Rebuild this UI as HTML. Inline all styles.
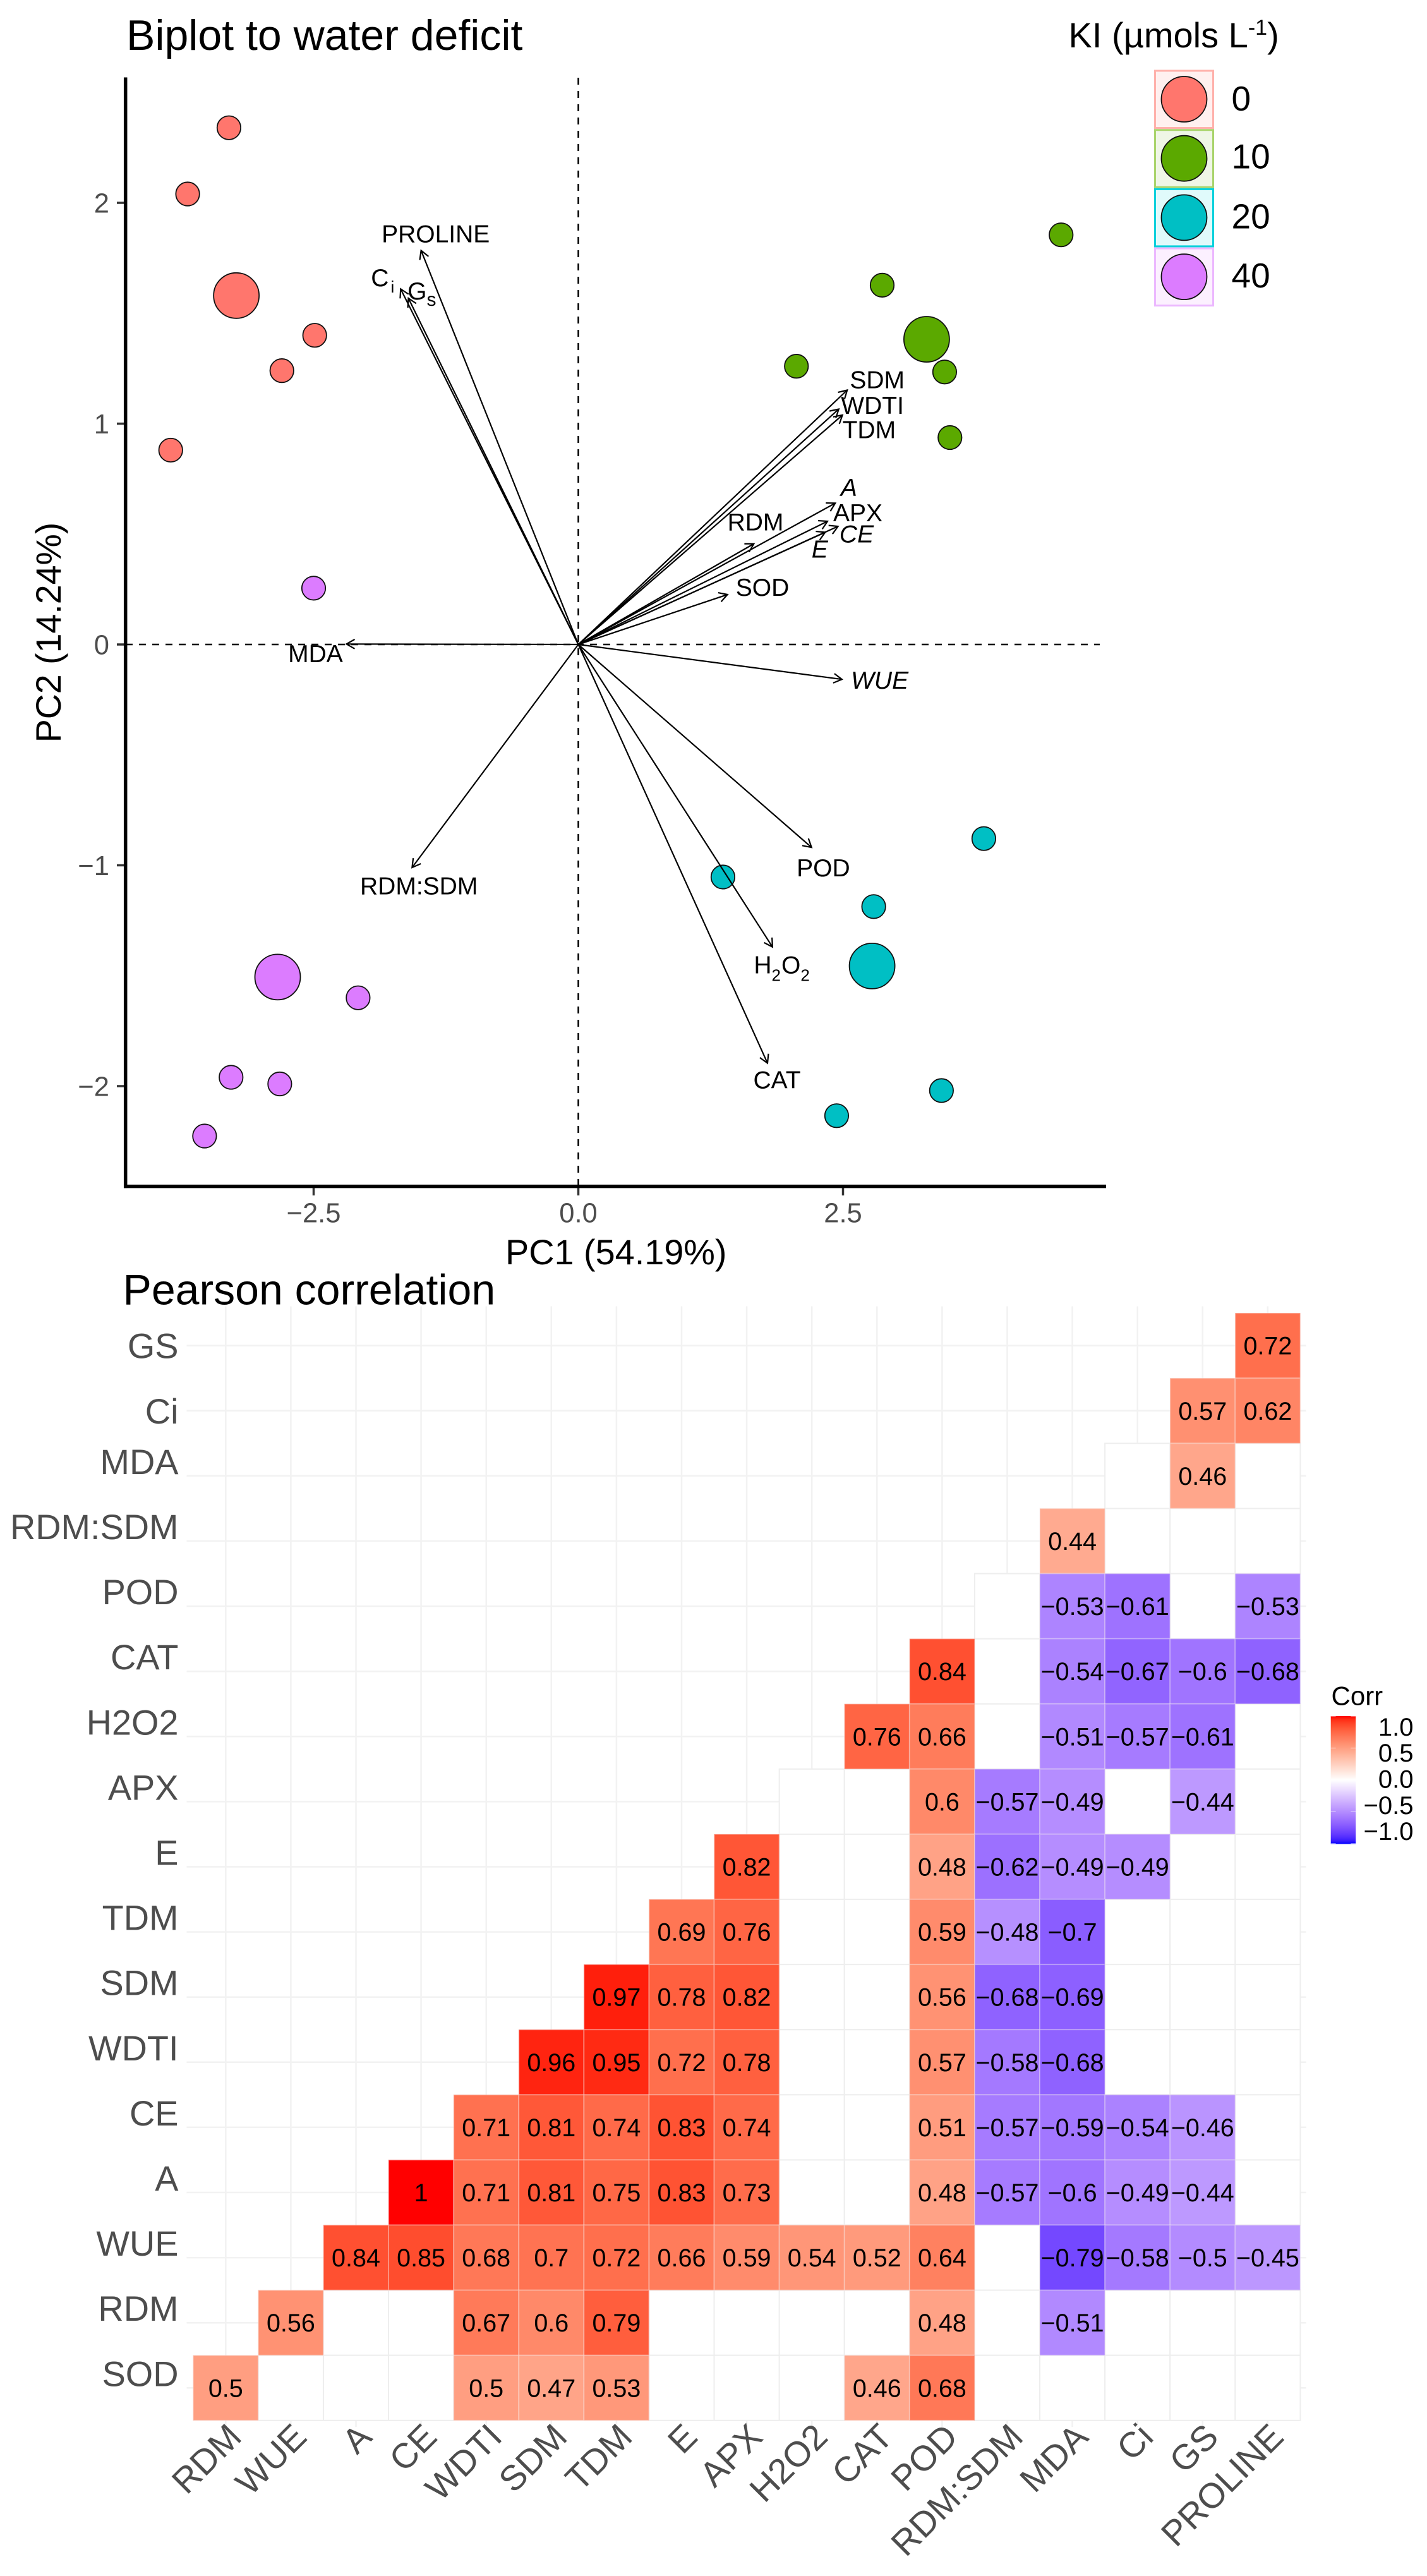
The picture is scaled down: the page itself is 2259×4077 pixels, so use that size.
<!DOCTYPE html>
<html lang="en">
<head>
<meta charset="utf-8">
<title>Biplot to water deficit and Pearson correlation</title>
<style>
html,body{margin:0;padding:0;background:#fff;}
svg{display:block;font-family:"Liberation Sans",Arial,sans-serif;}
</style>
</head>
<body>
<svg id="figure" xmlns="http://www.w3.org/2000/svg" width="2259" height="4077" viewBox="0 0 2259 4077">
  <rect x="0" y="0" width="2259" height="4077" fill="#fff"/>
  <defs>
    <linearGradient id="corr-gradient" x1="0" y1="0" x2="0" y2="1"></linearGradient>
  </defs>
  <g id="biplot">
    <text x="200" y="79" font-size="68" fill="#000">Biplot to water deficit</text>
    <text x="800" y="2001" font-size="55.8" fill="#000">PC1 (54.19%)</text>
    <text transform="translate(96,1001) rotate(-90)" text-anchor="middle" font-size="55.5" fill="#000">PC2 (14.24%)</text>
    <text x="1691.5" y="75" font-size="56" fill="#000">KI (µmols L<tspan font-size="34" dy="-20">-1</tspan><tspan dy="20">)</tspan></text>
  </g>
  <g id="heatmap">
    <text x="194.5" y="2064.5" font-size="68" fill="#000">Pearson correlation</text>
    <text x="2107.5" y="2698.5" font-size="42" fill="#000">Corr</text>
  </g>
</svg>
<script>
// ---------- Biplot data ----------
const groupLabels = ['0', '10', '20', '40'];
const groupColors = ['#FF766D', '#5BA900', '#00BFC4', '#DC7CFF'];
const scoresPc1Ki0 = [-3.30, -3.69, -2.49, -2.80, -3.85];
const scoresPc2Ki0 = [2.34, 2.04, 1.40, 1.24, 0.88];
const scoresPc1Ki10 = [4.56, 2.87, 2.06, 3.46, 3.51];
const scoresPc2Ki10 = [1.855, 1.627, 1.26, 1.234, 0.937];
const scoresPc1Ki20 = [3.83, 1.366, 2.79, 3.43, 2.44];
const scoresPc2Ki20 = [-0.879, -1.053, -1.187, -2.02, -2.134];
const scoresPc1Ki40 = [-2.50, -2.08, -3.28, -2.82, -3.53];
const scoresPc2Ki40 = [0.255, -1.60, -1.96, -1.99, -2.226];
const centroidPc1 = [-3.23, 3.29, 2.775, -2.84];
const centroidPc2 = [1.58, 1.382, -1.456, -1.506];
const loadingNames = ['PROLINE', 'Ci', 'Gs', 'MDA', 'RDM:SDM', 'SDM', 'WDTI', 'TDM', 'A', 'APX', 'CE', 'E', 'RDM', 'SOD', 'WUE', 'POD', 'H2O2', 'CAT'];
const loadingPc1 = [-1.485, -1.678, -1.605, -2.19, -1.57, 2.54, 2.46, 2.495, 2.427, 2.354, 2.453, 2.332, 1.658, 1.409, 2.49, 2.203, 1.834, 1.787];
const loadingPc2 = [1.784, 1.61, 1.568, 0.002, -1.01, 1.152, 1.066, 1.039, 0.64, 0.558, 0.535, 0.508, 0.456, 0.226, -0.158, -0.919, -1.37, -1.896];
const xTickValues = [-2.5, 0, 2.5];
const xTickLabels = ['−2.5', '0.0', '2.5'];
const yTickValues = [2, 1, 0, -1, -2];
const yTickLabels = ['2', '1', '0', '−1', '−2'];

// ---------- Heatmap data (each row runs from its diagonal to PROLINE; null = not significant) ----------
const corrColumns = ['RDM', 'WUE', 'A', 'CE', 'WDTI', 'SDM', 'TDM', 'E', 'APX', 'H2O2', 'CAT', 'POD', 'RDM:SDM', 'MDA', 'Ci', 'GS', 'PROLINE'];
const corrRows = ['GS', 'Ci', 'MDA', 'RDM:SDM', 'POD', 'CAT', 'H2O2', 'APX', 'E', 'TDM', 'SDM', 'WDTI', 'CE', 'A', 'WUE', 'RDM', 'SOD'];
const rowGS = [0.72];
const rowCi = [0.57, 0.62];
const rowMDA = [null, 0.46, null];
const rowRDMSDM = [0.44, null, null, null];
const rowPOD = [null, -0.53, -0.61, null, -0.53];
const rowCAT = [0.84, null, -0.54, -0.67, -0.6, -0.68];
const rowH2O2 = [0.76, 0.66, null, -0.51, -0.57, -0.61, null];
const rowAPX = [null, null, 0.6, -0.57, -0.49, null, -0.44, null];
const rowE = [0.82, null, null, 0.48, -0.62, -0.49, -0.49, null, null];
const rowTDM = [0.69, 0.76, null, null, 0.59, -0.48, -0.7, null, null, null];
const rowSDM = [0.97, 0.78, 0.82, null, null, 0.56, -0.68, -0.69, null, null, null];
const rowWDTI = [0.96, 0.95, 0.72, 0.78, null, null, 0.57, -0.58, -0.68, null, null, null];
const rowCE = [0.71, 0.81, 0.74, 0.83, 0.74, null, null, 0.51, -0.57, -0.59, -0.54, -0.46, null];
const rowA = [1, 0.71, 0.81, 0.75, 0.83, 0.73, null, null, 0.48, -0.57, -0.6, -0.49, -0.44, null];
const rowWUE = [0.84, 0.85, 0.68, 0.7, 0.72, 0.66, 0.59, 0.54, 0.52, 0.64, null, -0.79, -0.58, -0.5, -0.45];
const rowRDM = [0.56, null, null, 0.67, 0.6, 0.79, null, null, null, null, 0.48, null, -0.51, null, null, null];
const rowSOD = [0.5, null, null, null, 0.5, 0.47, 0.53, null, null, null, 0.46, 0.68, null, null, null, null, null];
const corrValues = [rowGS, rowCi, rowMDA, rowRDMSDM, rowPOD, rowCAT, rowH2O2, rowAPX, rowE, rowTDM, rowSDM, rowWDTI, rowCE, rowA, rowWUE, rowRDM, rowSOD];
const colorbarTicks = [1, 0.5, 0, -0.5, -1];
const colorbarLabels = ['1.0', '0.5', '0.0', '−0.5', '−1.0'];

// ---------- Helpers ----------
const NS = 'http://www.w3.org/2000/svg';
function make(parent, tag, attrs, text) {
  const el = document.createElementNS(NS, tag);
  for (const k in attrs) el.setAttribute(k, attrs[k]);
  if (text !== undefined) el.textContent = text;
  parent.appendChild(el);
  return el;
}
function xScale(v) { return 915.5 + 167.6 * v; }
function yScale(v) { return 1020 - 349.5 * v; }
function colX(i) { return 357.3 + 103.1 * i; }
function rowY(i) { return 2129.7 + 103.1 * i; }

function labToRgb(L, a, b) {
  const fy = (L + 16) / 116, fx = fy + a / 500, fz = fy - b / 200;
  const g = t => t > 6 / 29 ? t * t * t : 3 * (6 / 29) * (6 / 29) * (t - 4 / 29);
  const X = 0.95047 * g(fx), Y = g(fy), Z = 1.08883 * g(fz);
  const lin = [3.2406 * X - 1.5372 * Y - 0.4986 * Z, -0.9689 * X + 1.8758 * Y + 0.0415 * Z, 0.0557 * X - 0.204 * Y + 1.057 * Z];
  const out = lin.map(c => {
    const s = c <= 0.0031308 ? 12.92 * c : 1.055 * Math.pow(c, 1 / 2.4) - 0.055;
    return Math.round(Math.max(0, Math.min(1, s)) * 255);
  });
  return 'rgb(' + out.join(',') + ')';
}
function corrColor(v) {
  const t = Math.min(1, Math.abs(v));
  if (v >= 0) return labToRgb(100 + (53.24 - 100) * t, 80.09 * t, 67.2 * t);
  return labToRgb(100 + (32.3 - 100) * t, 79.19 * t, -107.86 * t);
}

// ---------- Biplot ----------
const bp = document.getElementById('biplot');

function drawBiplotGuides() {
  const v = make(bp, 'line', { x1: xScale(0), x2: xScale(0), y1: 123, y2: 1878, stroke: '#000', 'stroke-width': 2.5, 'stroke-dasharray': '11 10' });
  
  
  const h = make(bp, 'line', { x1: 199, x2: 1741, y1: yScale(0), y2: yScale(0), stroke: '#000', 'stroke-width': 2.5, 'stroke-dasharray': '11 10' });
  
  
}

function drawBiplotAxes() {
  xTickValues.forEach((v, i) => {
    const t = make(bp, 'line', { x1: xScale(v), x2: xScale(v), y1: 1878, y2: 1892, stroke: '#333', 'stroke-width': 3.5 });
    
    
    const l = make(bp, 'text', { x: xScale(v), y: 1934.5, 'text-anchor': 'middle', 'font-size': 43.5, fill: '#4d4d4d' }, xTickLabels[i]);
    
    
  });
  yTickValues.forEach((v, i) => {
    const t = make(bp, 'line', { x1: 185, x2: 199, y1: yScale(v), y2: yScale(v), stroke: '#333', 'stroke-width': 3.5 });
    
    
    const l = make(bp, 'text', { x: 173, y: yScale(v) + 15.5, 'text-anchor': 'end', 'font-size': 43.5, fill: '#4d4d4d' }, yTickLabels[i]);
    
    
  });
  const ya = make(bp, 'line', { x1: 198.7, x2: 198.7, y1: 122.5, y2: 1880.3, stroke: '#000', 'stroke-width': 5.5 });
  
  
  const xa = make(bp, 'line', { x1: 196, x2: 1751, y1: 1877.6, y2: 1877.6, stroke: '#000', 'stroke-width': 5.5 });
  
  
}

function drawScores() {
  const pc1 = [scoresPc1Ki0, scoresPc1Ki10, scoresPc1Ki20, scoresPc1Ki40];
  const pc2 = [scoresPc2Ki0, scoresPc2Ki10, scoresPc2Ki20, scoresPc2Ki40];
  groupLabels.forEach((g, gi) => {
    pc1[gi].forEach((x, i) => {
      const c = make(bp, 'circle', { cx: xScale(x), cy: yScale(pc2[gi][i]), r: 18.7, fill: groupColors[gi], stroke: '#111', 'stroke-width': 1.8 });
      
      
    });
    const big = make(bp, 'circle', { cx: xScale(centroidPc1[gi]), cy: yScale(centroidPc2[gi]), r: 36, fill: groupColors[gi], stroke: '#111', 'stroke-width': 1.8 });
    
    
  });
}

function drawLoadings() {
  // label placement relative to each arrow tip, in pixels: [dx, baseline dy]
  const place = {
    'PROLINE': [23.1, -12.9], 'MDA': [-49, 28.9], 'RDM:SDM': [10.8, 42.3], 'SDM': [47.5, -2.9],
    'WDTI': [53.3, 7.4], 'TDM': [42.2, 36.6], 'A': [21.6, -11.3], 'APX': [48, 0.1], 'CE': [29.4, 25.5],
    'E': [-8.6, 40.1], 'RDM': [2.6, -21.3], 'SOD': [55.4, 2.1], 'WUE': [59.8, 14.9], 'POD': [18.7, 45.6], 'CAT': [15, 39.7],
    'Ci': [-47, -4.4], 'Gs': [-1.4, 1.9], 'H2O2': [-29.5, 41.5]
  };
  const italic = { 'A': 1, 'CE': 1, 'E': 1, 'WUE': 1 };
  const ox = xScale(0), oy = yScale(0);
  loadingNames.forEach((name, i) => {
    const tx = xScale(loadingPc1[i]), ty = yScale(loadingPc2[i]);
    const a = make(bp, 'line', { x1: ox, y1: oy, x2: tx, y2: ty, stroke: '#000', 'stroke-width': 2.2 });
    
    
    const ang = Math.atan2(ty - oy, tx - ox), len = 15, sp = 0.52;
    const p1 = (tx - len * Math.cos(ang - sp)) + ',' + (ty - len * Math.sin(ang - sp));
    const p2 = (tx - len * Math.cos(ang + sp)) + ',' + (ty - len * Math.sin(ang + sp));
    const head = make(bp, 'polyline', { points: p1 + ' ' + tx + ',' + ty + ' ' + p2, fill: 'none', stroke: '#000', 'stroke-width': 2.2 });
    
    

    const d = place[name];
    const sub = name === 'Ci' || name === 'Gs' || name === 'H2O2';
    const attrs = { x: tx + d[0], y: ty + d[1], 'font-size': 39, fill: '#000' };
    attrs['text-anchor'] = sub ? 'start' : 'middle';
    if (italic[name]) attrs['font-style'] = 'italic';
    let label;
    if (name === 'Ci' || name === 'Gs') {
      label = make(bp, 'text', attrs, name[0]);
      make(label, 'tspan', { 'font-size': name === 'Ci' ? 26 : 30, dy: 10, dx: name === 'Ci' ? 3 : 0 }, name[1]);
    } else if (name === 'H2O2') {
      label = make(bp, 'text', attrs, 'H');
      make(label, 'tspan', { 'font-size': 26, dy: 12 }, '2');
      make(label, 'tspan', { dy: -12, dx: 1 }, 'O');
      make(label, 'tspan', { 'font-size': 26, dy: 12 }, '2');
    } else {
      label = make(bp, 'text', attrs, name);
    }
    
    
  });
}

function drawLegend() {
  const fills = ['#fff0ef', '#eff6e6', '#e0fafb', '#fcf0ff'];
  const strokes = ['#ffb1ab', '#a9d46b', '#00d0dc', '#ecb8ff'];
  const textNudge = [0, -2.3, -1, -1];
  groupLabels.forEach((g, i) => {
    const top = 112 + 93.7 * i;
    const b = make(bp, 'rect', { x: 1828.5, y: top, width: 92, height: 90.5, fill: fills[i], stroke: strokes[i], 'stroke-width': 3 });
    
    
    const c = make(bp, 'circle', { cx: 1874.5, cy: top + 45, r: 36, fill: groupColors[i], stroke: '#111', 'stroke-width': 1.8 });
    
    
    const t = make(bp, 'text', { x: 1949.5, y: top + 63 + textNudge[i], 'font-size': 55, fill: '#000' }, g);
    
    
  });
}

drawBiplotGuides();
drawBiplotAxes();
drawScores();
drawLoadings();
drawLegend();

// ---------- Heatmap ----------
const hm = document.getElementById('heatmap');

function drawGrid() {
  corrColumns.forEach((name, i) => {
    const l = make(hm, 'line', { x1: colX(i), x2: colX(i), y1: 2067.5, y2: 3841, stroke: '#f2f2f2', 'stroke-width': 2.5 });
    
    
  });
  corrRows.forEach((name, i) => {
    const l = make(hm, 'line', { x1: 295.5, x2: 2067.5, y1: rowY(i), y2: rowY(i), stroke: '#f2f2f2', 'stroke-width': 2.5 });
    
    
  });
}

function drawTiles() {
  const w = 103.1;
  corrValues.forEach((row, r) => {
    const start = corrColumns.length - row.length;
    // blank cells first so coloured tile edges sit on top
    row.forEach((v, k) => {
      if (v !== null) return;
      const c = start + k;
      const rect = make(hm, 'rect', { x: colX(c) - w / 2, y: rowY(r) - w / 2, width: w, height: w, fill: '#fff', stroke: '#eeeeee', 'stroke-width': 2 });
      
      
    });
  });
  corrValues.forEach((row, r) => {
    const start = corrColumns.length - row.length;
    row.forEach((v, k) => {
      if (v === null) return;
      const c = start + k;
      const rect = make(hm, 'rect', { x: colX(c) - w / 2, y: rowY(r) - w / 2, width: w, height: w, fill: corrColor(v), stroke: 'rgba(245,240,240,0.3)', 'stroke-width': 2 });
      
      
    });
  });
  corrValues.forEach((row, r) => {
    const start = corrColumns.length - row.length;
    row.forEach((v, k) => {
      if (v === null) return;
      const c = start + k;
      const label = String(v).replace('-', '−');
      const t = make(hm, 'text', { x: colX(c), y: rowY(r) + 14, 'text-anchor': 'middle', 'font-size': 39.5, fill: '#000' }, label);
      
      
    });
  });
}

function drawHeatmapLabels() {
  corrRows.forEach((name, i) => {
    // GS and Ci sit on their rows; the remaining labels are set slightly higher in the reference
    const shift = i < 2 ? 0 : -23;
    const t = make(hm, 'text', { x: 282.5, y: rowY(i) + shift + 20, 'text-anchor': 'end', 'font-size': 55.8, fill: '#4d4d4d' }, name);
    
    
  });
  corrColumns.forEach((name, i) => {
    const t = make(hm, 'text', { transform: 'translate(' + (colX(i) + 28) + ',3860) rotate(-45)', 'text-anchor': 'end', 'font-size': 55.8, fill: '#4d4d4d' }, name);
    
    
  });
}

function drawColorbar() {
  const grad = document.getElementById('corr-gradient');
  const steps = 40;
  for (let s = 0; s <= steps; s++) {
    const v = 1 - 2 * s / steps;
    make(grad, 'stop', { offset: (s / steps * 100) + '%', 'stop-color': corrColor(v) });
  }
  const bar = make(hm, 'rect', { x: 2106.7, y: 2716, width: 39.5, height: 202.5, fill: 'url(#corr-gradient)' });
  
  
  colorbarTicks.forEach((v, i) => {
    const y = 2817 - 100.7 * v;
    const a = make(hm, 'line', { x1: 2106.7, x2: 2114.6, y1: y, y2: y, stroke: '#fff', 'stroke-opacity': 0.5, 'stroke-width': 1.2 });
    
    
    const b = make(hm, 'line', { x1: 2138.3, x2: 2146.2, y1: y, y2: y, stroke: '#fff', 'stroke-opacity': 0.5, 'stroke-width': 1.2 });
    
    
    // the printed labels are packed tighter than the ticks in the reference
    const t = make(hm, 'text', { x: 2237.5, y: 2815 + (i - 2) * 41.3 + 14.5, 'text-anchor': 'end', 'font-size': 40, fill: '#000' }, colorbarLabels[i]);
    
    
  });
}

drawGrid();
drawTiles();
drawHeatmapLabels();
drawColorbar();
</script>
</body>
</html>
